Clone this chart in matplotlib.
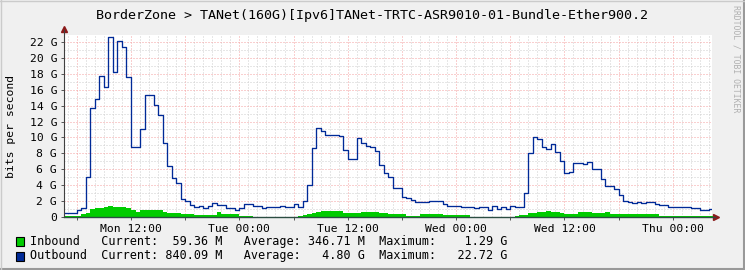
import numpy as np
import matplotlib
matplotlib.use('Agg')
import matplotlib.pyplot as plt
from matplotlib.patches import Rectangle
from matplotlib.lines import Line2D
from matplotlib.ticker import FixedLocator, MultipleLocator, FuncFormatter

plt.rcParams['font.family'] = ['DejaVu Sans Mono']

# data (hours since Mon 00:00, bits per second in G)
out_hours = [4.5, 6.0, 6.5, 7.0, 7.5, 8.0, 8.5, 9.0, 9.5, 10.0, 10.5, 11.0, 11.5, 12.0,
             13.0, 13.5, 14.5, 15.0, 15.5, 16.0, 16.5, 17.0, 17.5, 18.0, 18.5, 19.0,
             19.5, 20.0, 20.5, 21.0, 21.5, 22.5, 23.5, 24.0, 24.5, 25.5, 26.5, 27.0,
             28.5, 29.0, 30.0, 30.5, 31.0, 31.5, 32.0, 32.5, 33.0, 33.5, 35.0, 35.5,
             36.0, 37.0, 37.5, 38.0, 38.5, 39.0, 39.5, 40.0, 40.5, 41.0, 42.0, 42.5,
             43.0, 43.5, 44.0, 45.0, 46.5, 47.0, 48.5, 50.0, 50.5, 51.5, 52.0, 52.5,
             53.0, 53.5, 54.0, 54.5, 55.0, 55.5, 56.0, 56.5, 57.0, 57.5, 58.0, 58.5,
             59.0, 59.5, 60.0, 60.5, 61.0, 61.5, 62.0, 62.5, 63.0, 64.0, 64.5, 65.5,
             66.0, 66.5, 67.0, 67.5, 68.0, 68.5, 69.0, 70.0, 70.5, 71.5, 74.0, 75.0,
             76.0, 76.5]
out_vals = [0.47, 0.84, 1.06, 5.0, 13.7, 14.9, 17.8, 16.3, 22.72, 18.2, 22.2, 21.4, 17.6, 8.75,
            11.06, 15.3, 14.05, 12.8, 9.25, 6.4, 4.84, 4.2, 2.19, 1.94, 1.44, 1.18,
            1.35, 1.1, 1.35, 1.69, 1.48, 1.1, 0.84, 1.1, 1.56, 1.35, 1.05, 1.18,
            1.31, 1.18, 1.6, 1.18, 2.02, 3.96, 8.7, 11.15, 10.85, 10.26, 10.18, 8.4,
            7.3, 9.9, 9.25, 8.95, 8.75, 8.25, 6.5, 5.47, 4.97, 3.58, 2.52, 2.32,
            2.1, 1.9, 1.81, 1.98, 1.56, 1.39, 1.26, 1.13, 1.18, 0.84, 1.39, 0.97,
            1.18, 0.97, 1.35, 1.18, 1.26, 3.03, 8.0, 10.0, 9.76, 8.75, 8.5, 9.13,
            8.12, 7.06, 5.47, 5.67, 6.81, 6.73, 6.65, 6.94, 5.97, 4.72, 3.91, 3.45,
            2.74, 1.98, 1.81, 1.69, 1.81, 1.75, 1.81, 1.56, 1.44, 1.22, 1.06, 0.84,
            0.95, 0.84]

in_hours = [4.5, 6.5, 7.0, 7.5, 8.0, 9.0, 9.5, 10.0, 10.5, 11.5, 12.0, 12.5, 13.0, 14.5,
            15.0, 15.5, 16.0, 17.5, 19.0, 21.5, 22.0, 24.0, 25.5, 30.5, 31.0, 31.5,
            32.0, 32.5, 33.0, 35.5, 36.0, 37.5, 39.0, 39.5, 40.5, 42.5, 44.0, 46.5,
            49.5, 54.5, 55.0, 56.0, 57.0, 58.0, 58.5, 59.5, 60.0, 61.5, 62.5, 63.0,
            64.5, 65.0, 65.5, 70.5, 76.5]
in_vals = [0.05, 0.3, 0.43, 0.93, 1.06, 1.18, 1.29, 1.25, 1.2, 1.06, 0.8, 0.6, 0.8, 0.9,
           0.8, 0.6, 0.5, 0.34, 0.21, 0.59, 0.3, 0.13, 0.02, 0.1, 0.2, 0.34,
           0.5, 0.63, 0.67, 0.5, 0.45, 0.63, 0.59, 0.43, 0.3, 0.13, 0.3, 0.17,
           0.02, 0.1, 0.2, 0.43, 0.55, 0.72, 0.55, 0.43, 0.38, 0.55, 0.63, 0.45,
           0.63, 0.38, 0.3, 0.06, 0.06]

day_ticks = [12, 24, 36, 48, 60, 72]
day_labels = ['Mon 12:00', 'Tue 00:00', 'Tue 12:00', 'Wed 00:00', 'Wed 12:00', 'Thu 00:00']

series_names = ['Inbound', 'Outbound']
cur = ['59.36 M', '840.09 M']
avg = ['346.71 M', '4.80 G']
mx = ['1.29 G', '22.72 G']

IN_COLOR = '#00cc00'
OUT_COLOR = '#002a97'
W, H = 745, 270

fig = plt.figure(figsize=(W / 100, H / 100), dpi=100, facecolor='#f0f0f0')
ax = fig.add_axes([64 / W, (H - 216.7) / H, 648 / W, 181.7 / H])
ax.set_facecolor('white')

ax.fill_between(in_hours, in_vals, 0, step='post', color=IN_COLOR, linewidth=0, zorder=3)
ax.plot(out_hours, out_vals, drawstyle='steps-post', color=OUT_COLOR, linewidth=0.95, zorder=4)

ax.set_xlim(4.58, 76.34)
ax.set_ylim(0, 22.91)

# grid: minor grey every hour / 1 G, major red every 6 h / 2 G
ax.xaxis.set_major_locator(FixedLocator(np.arange(6, 77, 6)))
ax.xaxis.set_minor_locator(MultipleLocator(1))
lab = dict(zip(day_ticks, day_labels))
ax.xaxis.set_major_formatter(FuncFormatter(lambda v, p: lab.get(int(round(v)), '')))
ax.yaxis.set_major_locator(MultipleLocator(2))
ax.yaxis.set_minor_locator(MultipleLocator(1))
ax.yaxis.set_major_formatter(FuncFormatter(lambda v, p: '0' if v == 0 else '%d G' % v))

ax.grid(which='minor', color='#cfcfcf', linestyle=(0, (1, 2)), linewidth=0.72, zorder=1)
ax.grid(which='major', color='#f4a0a0', linestyle=(0, (1, 2)), linewidth=0.72, zorder=1)
ax.set_axisbelow(True)

for s in ax.spines.values():
    s.set_visible(False)
ax.tick_params(which='minor', length=0)
ax.tick_params(which='major', length=2, width=0.7, color='#555555', labelsize=8.2, pad=3)
ax.tick_params(axis='y', pad=3)

# axis lines with arrows
ax.plot([0, 0], [0, 1.03], transform=ax.transAxes, color='#404040', lw=0.8, clip_on=False, zorder=5)
ax.plot([0, 1.005], [0, 0], transform=ax.transAxes, color='#2c4d43', lw=1.0, clip_on=False, zorder=5)
ax.plot([0], [1.035], marker='^', ms=4, color='#8b1a1a', transform=ax.transAxes, clip_on=False)
ax.plot([1.006], [0], marker='>', ms=4, color='#8b1a1a', transform=ax.transAxes, clip_on=False)

fig.text(0.5, 1 - 15 / H, 'BorderZone > TANet(160G)[Ipv6]TANet-TRTC-ASR9010-01-Bundle-Ether900.2',
         ha='center', va='center', fontsize=9.6)
fig.text(11 / W, 1 - 126 / H, 'bits per second', rotation=90, ha='center', va='center', fontsize=8.2)
fig.text(736 / W, 1 - 59 / H, 'RRDTOOL / TOBI OETIKER', rotation=270, ha='center', va='center',
         fontsize=5.9, color='#b0b0b0')

# legend
for i, (name, col) in enumerate(zip(series_names, [IN_COLOR, OUT_COLOR])):
    yc = 241 + 15 * i
    fig.patches.append(Rectangle((15.5 / W, 1 - (yc + 4.5) / H), 8.5 / W, 9 / H,
                                 transform=fig.transFigure, facecolor=col, edgecolor='black', lw=0.8))
    txt = '%-10sCurrent:%9s   Average:%9s  Maximum:%10s' % (name, cur[i], avg[i], mx[i])
    fig.text(30 / W, 1 - yc / H, txt, ha='left', va='center', fontsize=8.5)

# shaded frame
fig.lines.append(Line2D([0, 1], [1 / H, 1 / H], transform=fig.transFigure, color='#999999', lw=1.5))
fig.lines.append(Line2D([1 - 1 / W, 1 - 1 / W], [0, 1], transform=fig.transFigure, color='#999999', lw=1.5))
fig.lines.append(Line2D([0, 1], [1 - 0.5 / H, 1 - 0.5 / H], transform=fig.transFigure, color='#cbcbcb', lw=1))
fig.lines.append(Line2D([0.5 / W, 0.5 / W], [0, 1], transform=fig.transFigure, color='#cbcbcb', lw=1))

fig.savefig('out.png', dpi=100, facecolor=fig.get_facecolor())
